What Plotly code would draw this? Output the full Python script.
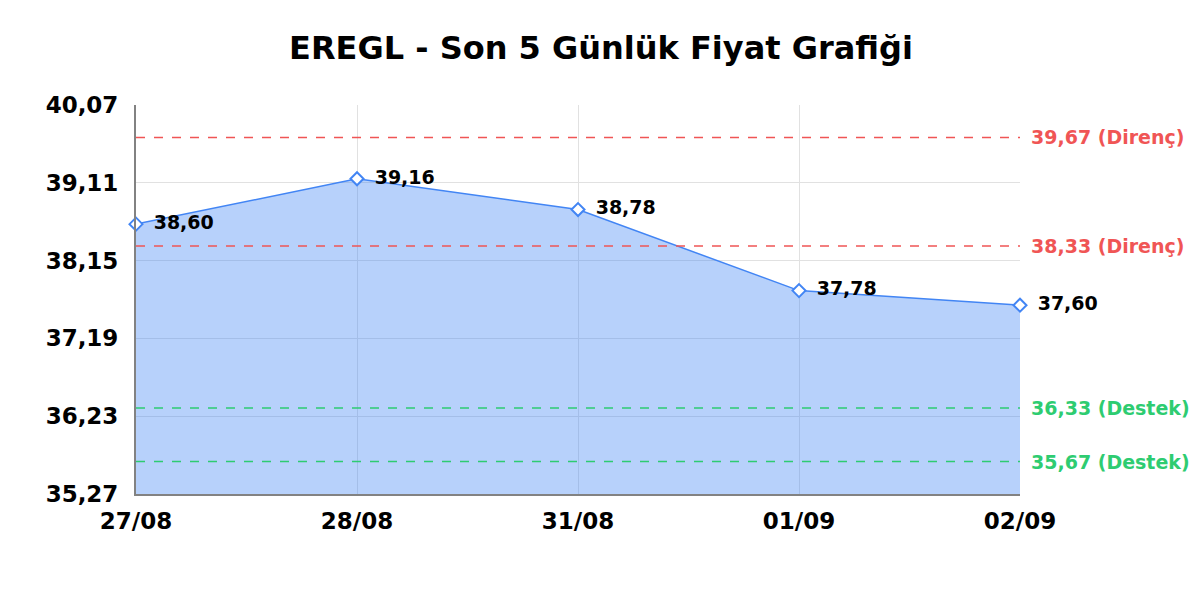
import plotly.graph_objects as go

dates = ["27/08", "28/08", "31/08", "01/09", "02/09"]
prices = [38.60, 39.16, 38.78, 37.78, 37.60]
y_ticks = [35.27, 36.23, 37.19, 38.15, 39.11, 40.07]

resistance = [39.67, 38.33]
support = [36.33, 35.67]

RED = "rgb(240,85,85)"
GREEN = "rgb(46,204,113)"
BLUE = "rgb(66,133,244)"


def tr(v):
    # Türkçe ondalık ayırıcı
    return f"{v:.2f}".replace(".", ",")


fig = go.Figure()

fig.add_trace(go.Scatter(
    x=dates, y=prices,
    mode="lines+markers+text",
    fill="tozeroy",
    fillcolor="rgba(66,133,244,0.38)",
    line=dict(color=BLUE, width=1.5),
    marker=dict(symbol="diamond", size=10, color="white",
                line=dict(color=BLUE, width=2)),
    text=["\u00a0\u2009" + tr(p) for p in prices],
    textposition="middle right",
    textfont=dict(family="DejaVu Sans", size=19, color="black", weight="bold"),
    cliponaxis=False,
    showlegend=False,
))

# destek / direnç çizgileri
for val in resistance:
    fig.add_hline(y=val, line=dict(color=RED, width=1.5, dash="dash"))
    fig.add_annotation(x=1, xref="paper", y=val, yref="y", xanchor="left",
                       xshift=9, showarrow=False,
                       text=tr(val) + " (Direnç)",
                       font=dict(family="DejaVu Sans", size=19, color=RED, weight="bold"))
for val in support:
    fig.add_hline(y=val, line=dict(color=GREEN, width=1.5, dash="dash"))
    fig.add_annotation(x=1, xref="paper", y=val, yref="y", xanchor="left",
                       xshift=9, showarrow=False,
                       text=tr(val) + " (Destek)",
                       font=dict(family="DejaVu Sans", size=19, color=GREEN, weight="bold"))

fig.update_layout(
    width=1192, height=592,
    margin=dict(l=128, r=180, t=97, b=106),
    paper_bgcolor="white", plot_bgcolor="white",
    separators=",.",
    title=dict(text="<b>EREGL - Son 5 Günlük Fiyat Grafiği</b>",
               x=0.4975, xanchor="center", y=0.932, yanchor="middle",
               font=dict(family="DejaVu Sans", size=32, color="black")),
    font=dict(family="DejaVu Sans", color="black"),
)
fig.update_xaxes(
    type="category", range=[0, len(dates) - 1],
    showgrid=True, gridcolor="rgb(225,225,225)", gridwidth=1,
    showline=True, linecolor="rgb(130,130,130)", linewidth=2,
    ticks="", tickfont=dict(size=23, weight="bold"),
    ticklabelstandoff=5,
)
fig.update_yaxes(
    range=[y_ticks[0], y_ticks[-1]], tickvals=y_ticks,
    ticktext=[tr(v) for v in y_ticks],
    showgrid=True, gridcolor="rgb(225,225,225)", gridwidth=1,
    showline=True, linecolor="rgb(130,130,130)", linewidth=2,
    zeroline=False, ticks="", tickfont=dict(size=23, weight="bold"),
    ticklabelstandoff=11,
)

fig.write_html("out.html")
